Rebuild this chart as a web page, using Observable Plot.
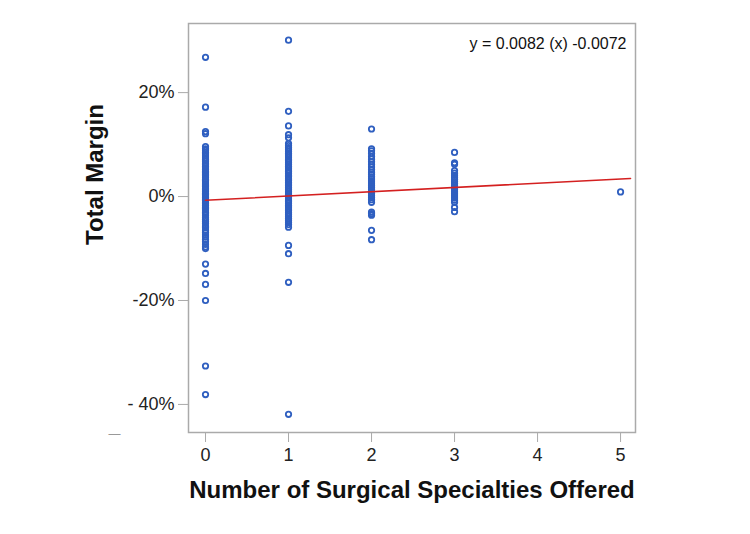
<!DOCTYPE html>
<html>
<head>
<meta charset="utf-8">
<script src="https://cdn.jsdelivr.net/npm/d3@7"></script>
<script src="https://cdn.jsdelivr.net/npm/@observablehq/plot@0.6"></script>
<style>
  html, body { margin: 0; padding: 0; background: #fff; }
  #chart { width: 750px; height: 534px; }
  svg { font-family: "Liberation Sans", Arial, sans-serif; }
</style>
</head>
<body>
<div id="chart"></div>
<script>
// Total margin by number of surgical specialties offered (fractions)
const specialties0 = [0.268, 0.172, 0.125, 0.121, 0.096,
  0.092, 0.089, 0.085, 0.082, 0.078, 0.074, 0.071, 0.068, 0.064, 0.061, 0.058, 0.055,
  0.052, 0.048, 0.046, 0.043, 0.040, 0.037, 0.033, 0.031, 0.028, 0.024, 0.022, 0.019,
  0.016, 0.013, 0.010, 0.006, 0.004, 0.001, -0.002, -0.005, -0.008, -0.012, -0.014,
  -0.017, -0.021, -0.023, -0.026, -0.030, -0.032, -0.036, -0.041, -0.044, -0.048,
  -0.052, -0.057, -0.060, -0.065, -0.069, -0.074, -0.078, -0.083, -0.087, -0.092,
  -0.097, -0.100, -0.130, -0.148, -0.169, -0.200, -0.326, -0.381];
const specialties1 = [0.301, 0.164, 0.136, 0.119, 0.113,
  0.102, 0.098, 0.094, 0.091, 0.087, 0.083, 0.080, 0.076, 0.072, 0.069, 0.066, 0.062,
  0.058, 0.055, 0.051, 0.048, 0.045, 0.041, 0.038, 0.034, 0.031, 0.027, 0.024, 0.021,
  0.017, 0.014, 0.010, 0.007, 0.004, 0.000, -0.003, -0.007, -0.010, -0.013, -0.017,
  -0.020, -0.024, -0.027, -0.031, -0.034, -0.038, -0.042, -0.046, -0.050, -0.054,
  -0.059, -0.094, -0.110, -0.165, -0.419];
const specialties2 = [0.130, 0.092, 0.088, 0.083, 0.077, 0.072, 0.067, 0.062, 0.057,
  0.052, 0.047, 0.043, 0.038, 0.034, 0.030, 0.026, 0.022, 0.018, 0.014, 0.010, 0.006,
  0.002, -0.002, -0.006, -0.011, -0.030, -0.033, -0.036, -0.065, -0.083];
const specialties3 = [0.085, 0.065, 0.062, 0.050, 0.045, 0.041, 0.037, 0.033, 0.029,
  0.025, 0.021, 0.017, 0.013, 0.009, 0.005, 0.001, -0.003, -0.007, -0.011, -0.021, -0.029];
const specialties5 = [0.009];

const xValues = [0, 1, 2, 3, 5];
const columns = [specialties0, specialties1, specialties2, specialties3, specialties5];

const slope = 0.0082;
const intercept = -0.0072;
const lineX = [0, 5.12];

const xTicks = [0, 1, 2, 3, 4, 5];
const yTicks = [0.2, 0, -0.2, -0.4];
const yTickLabels = ["20%", "0%", "-20%", "- 40%"];

const equation = "y = 0.0082 (x) -0.0072";
const xLabel = "Number of Surgical Specialties Offered";
const yLabel = "Total Margin";

const points = [];
columns.forEach((col, i) => col.forEach(v => points.push({x: xValues[i], y: v})));
const fit = lineX.map(x => ({x, y: slope * x + intercept}));

const chart = Plot.plot({
  width: 750,
  height: 534,
  marginLeft: 188,
  marginRight: 115,
  marginTop: 23,
  marginBottom: 102,
  x: {domain: [-0.205, 5.18]},
  y: {domain: [-0.454, 0.333]},
  marks: [
    Plot.frame({stroke: "#aaaaaa", strokeWidth: 1.5}),
    Plot.axisX(xTicks, {tickSize: 10, tickPadding: 6, fontSize: 18, stroke: "#aaaaaa", fill: "#222", label: null, tickFormat: d => String(d)}),
    Plot.axisY(yTicks, {tickSize: 10, tickPadding: 4, fontSize: 18, stroke: "#aaaaaa", fill: "#222", label: null,
      tickFormat: d => yTickLabels[yTicks.indexOf(d)]}),
    Plot.dot(points, {x: "x", y: "y", r: 2.7, stroke: "#2f5fc0", strokeWidth: 1.8, fill: "none"}),
    Plot.line(fit, {x: "x", y: "y", stroke: "#d42020", strokeWidth: 1.6}),
    Plot.text([equation], {frameAnchor: "top-right", dx: -9, dy: 14, textAnchor: "end", fontSize: 16, fill: "#111"}),
    Plot.text([xLabel], {frameAnchor: "bottom", dy: 65, fontSize: 24, fontWeight: "bold", fill: "#111"}),
    Plot.text([yLabel], {frameAnchor: "left", dx: -93, dy: 17, rotate: -90, fontSize: 24, fontWeight: "bold", fill: "#111"}),
    Plot.text(["—"], {frameAnchor: "bottom-left", dx: -80, dy: 5, fontSize: 12, fill: "#999"})
  ]
});
document.getElementById("chart").appendChild(chart);
</script>
</body>
</html>
